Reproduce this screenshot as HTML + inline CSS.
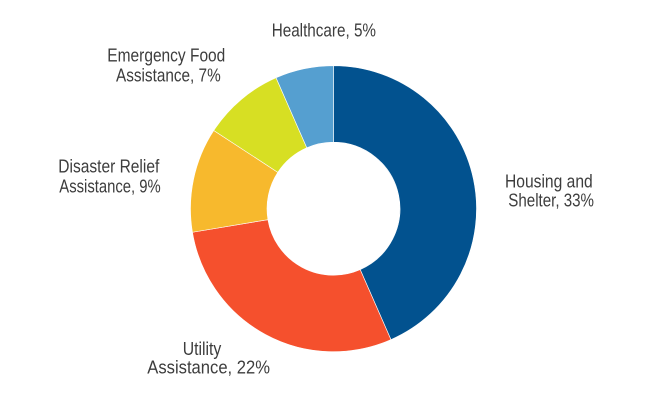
<!DOCTYPE html>
<html>
<head>
<meta charset="utf-8">
<style>
html,body{margin:0;padding:0;background:#fff;}
svg{display:block;}
text{font-family:"Liberation Sans Narrow","Liberation Sans",sans-serif;font-size:18.5px;fill:#3d3d3d;}
</style>
</head>
<body>
<svg width="656" height="411" viewBox="0 0 656 411" xmlns="http://www.w3.org/2000/svg">
<rect width="656" height="411" fill="#fff"/>
<g stroke="#ffffff" stroke-width="0.6" stroke-linejoin="round">
<path d="M333.5 65.7 A143 143 0 0 1 390.94 339.66 L360.21 269.6 A66.5 66.5 0 0 0 333.5 142.2 Z" fill="#02528F"/>
<path d="M390.94 339.66 A143 143 0 0 1 192.45 232.24 L267.91 219.65 A66.5 66.5 0 0 0 360.21 269.6 Z" fill="#F5502D"/>
<path d="M192.45 232.24 A143 143 0 0 1 213.76 130.51 L277.82 172.34 A66.5 66.5 0 0 0 267.91 219.65 Z" fill="#F7B92D"/>
<path d="M213.76 130.51 A143 143 0 0 1 276.06 77.74 L306.79 147.8 A66.5 66.5 0 0 0 277.82 172.34 Z" fill="#D7DF23"/>
<path d="M276.06 77.74 A143 143 0 0 1 333.5 65.7 L333.5 142.2 A66.5 66.5 0 0 0 306.79 147.8 Z" fill="#559FD0"/>
</g>
<text x="271.7" y="36.6" textLength="104.3" lengthAdjust="spacingAndGlyphs">Healthcare, 5%</text>
<text x="107.3" y="61.7" textLength="118" lengthAdjust="spacingAndGlyphs">Emergency Food</text>
<text x="116" y="81.7" textLength="104.7" lengthAdjust="spacingAndGlyphs">Assistance, 7%</text>
<text x="58.3" y="172.6" textLength="101" lengthAdjust="spacingAndGlyphs">Disaster Relief</text>
<text x="59.3" y="192.6" textLength="101.4" lengthAdjust="spacingAndGlyphs">Assistance, 9%</text>
<text x="505" y="187.5" textLength="87.7" lengthAdjust="spacingAndGlyphs">Housing and</text>
<text x="508.3" y="206.5" textLength="85.7" lengthAdjust="spacingAndGlyphs">Shelter, 33%</text>
<text x="182.7" y="355" textLength="38.6" lengthAdjust="spacingAndGlyphs">Utility</text>
<text x="147.3" y="373.5" textLength="122.7" lengthAdjust="spacingAndGlyphs">Assistance, 22%</text>
</svg>
</body>
</html>
